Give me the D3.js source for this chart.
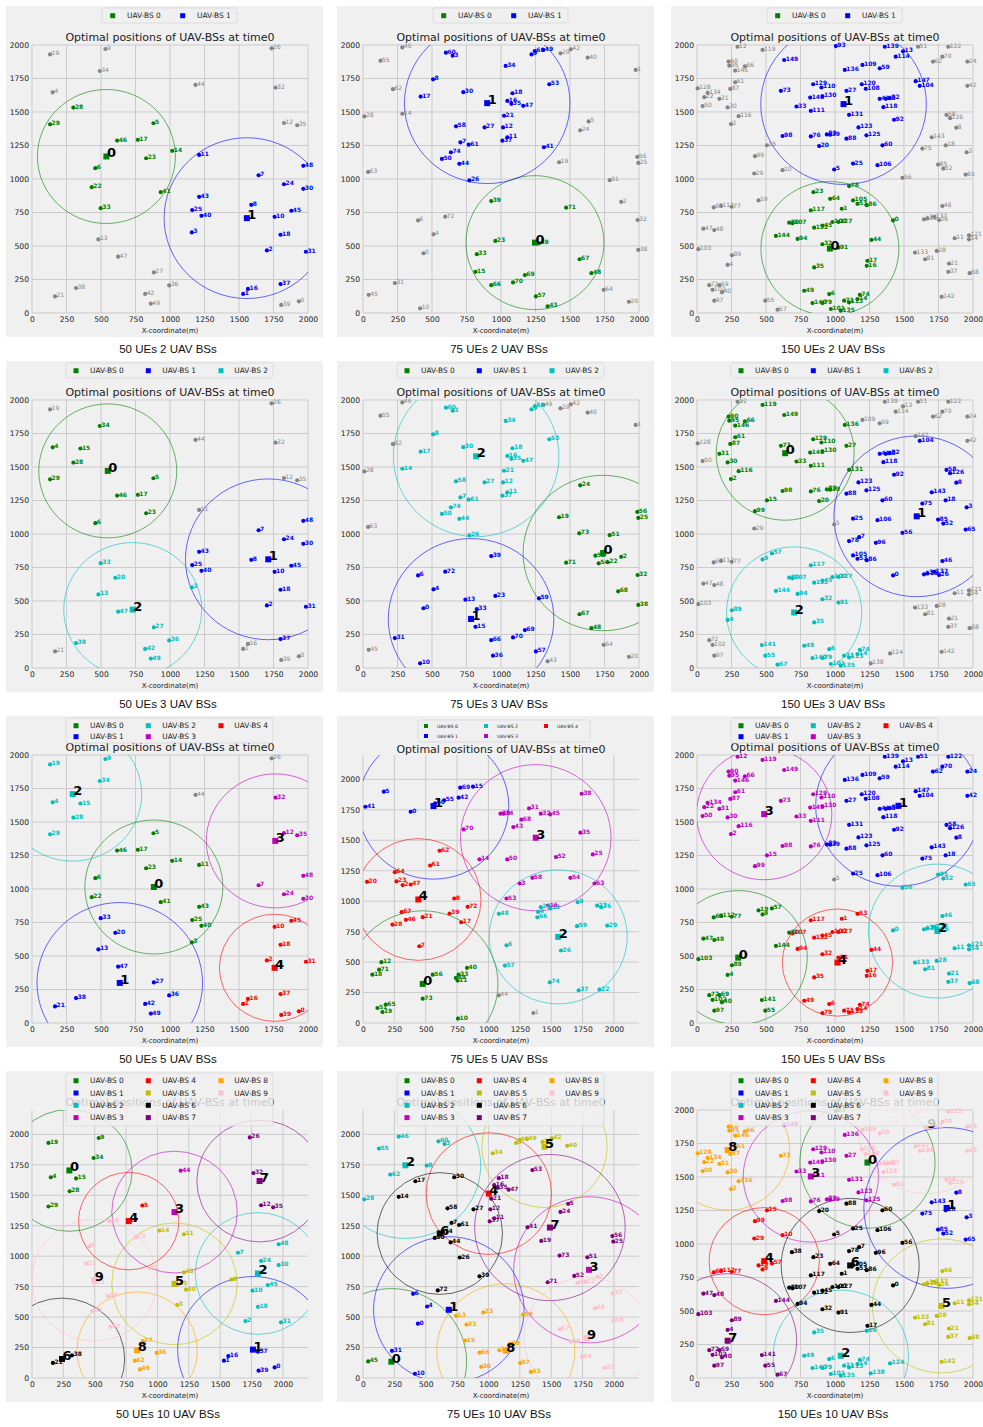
<!DOCTYPE html>
<html><head><meta charset="utf-8">
<script src="https://cdn.jsdelivr.net/npm/d3@7"></script>
<style>body{margin:0;background:#fff}svg{display:block}</style>
</head><body>
<svg id="c" width="983" height="1427"></svg>
<script>
// ---------- UE position sets (metres) ----------
const ue50X = [1934,1530,1702,1158,150,880,459,1642,1589,532,1758,1211,1826,481,1016,351,1565,767,1801,131,604,167,433,827,1826,1161,1736,883,300,131,1966,1985,1765,498,491,1922,994,1801,319,1806,1228,933,820,1211,1185,1879,617,624,1966,861];
const ue50Y = [87,142,467,601,1647,1416,1081,1028,807,1970,718,1180,1418,549,1210,1638,180,1292,584,1930,673,124,939,1155,961,768,1975,303,1533,1408,927,457,1682,782,1806,1401,206,216,186,60,725,902,142,867,1702,763,1287,420,1098,70];

const ue75X = [438,1976,1871,650,511,1635,399,706,508,1221,414,1046,1015,742,285,815,1046,418,1083,1421,1927,1022,1774,959,1574,1995,771,881,10,1431,727,231,1990,825,1034,1075,942,1010,1995,929,1628,1311,1506,1338,698,41,285,1161,1655,1306,572,1788,1684,1350,1708,127,1988,1253,674,1275,601,766,217,37,1744,1245,929,1569,1849,1173,1087,1472,596,1567,637];
const ue75Y = [446,1814,830,1920,587,1430,691,1274,1744,1930,35,1311,1385,510,1487,307,1583,1615,1640,1125,84,1472,789,538,1363,1120,989,1385,1467,1938,1648,223,694,439,1844,1561,92,1286,471,835,1906,1237,1968,50,1113,136,1982,1546,297,1963,1150,991,838,1707,781,1883,1165,124,1393,520,1943,1256,1670,1053,173,1955,208,401,572,283,228,786,719,1005,1199];

const ue75bX = [380,1358,316,1249,1396,166,1144,449,727,1711,757,754,147,1492,928,877,1476,783,75,155,32,476,1885,267,1417,1832,1578,1866,235,1947,1096,1324,1417,762,1120,1733,1899,1719,1743,690,829,19,762,1198,1083,1492,342,380,1083,740,1150,115,1538,1144,1653,647,556,1131,1350,1706,575,535,610,1845,254,182,1390,308,1262,775,802,128,834,476,1489];
const ue75bY = [1734,82,1132,1145,912,1899,638,630,1022,992,36,348,499,940,1343,1940,964,827,397,90,1159,869,274,1162,951,1384,595,964,808,800,1718,1762,1718,397,1718,1562,951,269,1882,899,452,1775,1850,1608,227,1712,847,1137,896,370,1343,123,1362,1022,1192,1828,397,471,1192,795,1803,1293,1414,1145,1238,151,868,910,1669,1932,1589,438,954,200,334];

const ue150X = [1421,1049,246,1954,222,994,958,1175,1879,475,620,1867,294,1493,1163,507,1230,1235,1802,446,885,1826,53,844,1959,1131,1754,1083,1737,415,222,162,909,721,null,849,1670,1821,688,965,181,1324,1959,1368,1264,909,1778,46,125,777,41,1602,1785,1163,1971,495,1489,543,1808,1324,1344,277,1710,121,965,1947,347,584,1976,162,1778,1066,89,608,1180,1633,825,251,1102,909,668,1653,1397,941,null,1747,1230,241,1083,253,229,1025,1428,1006,729,234,1296,125,620,420,982,970,113,10,1614,1131,1308,692,1223,1199,902,825,174,1102,1440,1645,302,825,1351,475,1194,1971,1821,1170,1399,1228,1834,1025,5,842,909,1102,849,1580,77,1042,1071,1718,1259,1361,837,470,1773,1701,572,820,277,1585,null,632];
const ue150Y = [691,778,1410,1199,359,1071,141,976,1383,810,1066,558,1987,1953,104,1251,352,389,1251,840,1246,369,1611,902,1876,1115,694,1658,463,1041,1534,1598,513,1541,null,340,706,307,939,1331,154,1598,1695,1598,545,652,798,629,619,166,1544,1987,1078,815,550,92,1009,855,1478,1826,1251,1722,1876,788,852,1033,1841,25,297,208,1913,92,208,1658,136,1227,1318,793,947,74,674,401,1603,1333,null,1108,805,1672,1301,431,1876,488,1442,1992,553,1846,934,92,1321,1170,679,30,173,476,1695,840,1103,669,1673,1851,1683,1509,800,79,1913,699,1469,766,1536,1963,1707,580,1987,1385,109,1326,1454,679,1677,1707,1616,1479,637,451,1643,17,1814,718,35,1987,74,171,121,1311,575,1608,1809,1730,null,1888];

// ---------- per-panel UAV positions, radii, UE groups ----------
const uav50_2X=[539,1557], uav50_2Y=[1168,708], rad50_2=[500,600];
const grp50_2=[[28,29,5,46,17,14,23,6,22,41,33],[11,7,48,24,30,43,8,25,40,10,45,3,18,2,31,37,16,1]];
const gray50_2=[19,9,34,26,4,44,32,12,35,13,47,27,36,38,21,42,49,39,0];

const uav75_2X=[1246,900], uav75_2Y=[525,1566], rad75_2=[500,600];
const grp75_2=[[39,71,23,59,33,67,15,48,69,70,66,57,43],[60,3,8,17,30,34,18,16,35,47,53,21,58,27,12,7,61,11,37,74,50,44,41,26,49,65,9]];
const gray75_2=[46,55,62,28,14,29,42,40,1,5,24,19,56,25,63,51,2,6,72,32,4,0,38,31,64,45,20,10];

const uav150_2X=[963,1062], uav150_2Y=[481,1559], rad150_2=[500,600];
const grp150_2=[[78,23,64,105,53,86,1,117,0,80,107,144,94,132,45,100,127,91,32,44,35,17,16,49,6,74,14,140,79,71,113,101,135],
 [93,139,13,114,149,136,109,59,147,104,73,129,110,27,120,108,145,130,33,111,41,43,82,118,131,92,98,83,39,88,76,123,125,20,60,25,106,5]];
const gray150_2=[12,51,122,70,62,24,90,95,146,66,61,87,128,134,22,31,50,30,116,2,119,42,58,126,8,143,75,18,3,15,99,29,10,85,52,65,56,46,63,112,77,19,47,48,103,89,4,72,102,69,40,97,55,67,133,81,28,21,37,68,11,121,54,115,36,26,137,142];

const uav50_3X=[549,1712,730], uav50_3Y=[1471,811,436], rad50_3=[500,600,500];
const grp50_3=[[34,4,15,28,29,5,46,17,23,6],[7,48,24,30,43,25,40,8,10,45,18,2,31,37],[33,20,13,47,3,27,36,38,42,49]];
const gray50_3=[19,26,44,32,12,35,11,21,16,1,39,0];

const uav75_3X=[1740,783,820], uav75_3Y=[858,366,1580], rad75_3=[580,600,600];
const grp75_3=[[24,19,56,25,73,51,52,54,22,2,71,32,68,38,67,48],[39,6,72,4,13,23,59,0,33,15,31,66,70,69,57,10,36],
 [60,3,8,17,14,30,34,18,16,35,47,53,21,58,27,12,7,61,11,37,74,50,44,26,9,65]];
const gray75_3=[46,55,62,28,63,45,49,29,42,40,1,64,20,43];

const uav150_3X=[639,1592,704], uav150_3Y=[1603,1132,414], rad150_3=[500,600,490];
const grp150_3=[[119,149,90,95,146,66,61,87,31,30,116,2,73,129,110,145,130,27,33,111,131,98,76,83,39,20,15,99,136],
 [104,41,43,82,118,92,58,126,8,123,125,88,60,143,75,18,3,25,106,85,52,65,56,78,7,96,105,53,86,0,115,36,26,137,46],
 [9,57,117,80,107,132,45,100,127,144,94,32,91,89,4,35,141,55,67,49,6,140,79,74,14,101,71,113,135]];
const gray150_3=[12,139,13,114,51,122,70,62,24,109,59,147,42,128,50,5,29,63,112,77,47,48,103,72,102,97,133,81,28,21,37,68,11,121,54,142,138,124];

const uav50_5X=[883,636,295,1763,1758], uav50_5Y=[1015,299,1708,1359,412], rad50_5=[500,600,500,500,400];
const grp50_5=[[5,46,17,14,23,11,6,22,41,43,25,40,3],[33,20,13,47,27,21,38,36,42,49],[19,9,34,4,15,28,29],[32,12,35,7,48,24,30],[10,45,18,2,31,37,16,1,39,0]];
const gray50_5=[26,44];

const uav75_5X=[476,562,1556,1377,441], uav75_5Y=[321,1781,707,1521,1014], rad75_5=[600,600,550,600,500];
const grp75_5=[[10,11,12,18,19,33,40,49,51,56,65,71,73],[0,5,15,41,42,55,60,69],[4,6,9,13,22,24,26,27,29,36,37,48,57,59,66,74],
 [3,14,16,25,30,31,32,34,35,38,43,45,50,52,53,54,58,63,68,70],[2,7,8,17,20,21,23,28,39,46,47,61,62,64,67,72]];
const gray75_5=[1,44];

const uav150_5X=[299,1460,1742,487,1018], uav150_5Y=[488,1621,686,1559,451], rad150_5=[500,600,500,490,400];
const grp150_5=[[63,112,77,19,9,57,47,48,103,89,4,72,102,69,40,97,144,141,55,80],
 [139,13,51,122,114,70,62,24,136,109,59,147,104,42,120,108,27,41,43,82,118,131,92,58,126,8,83,39,88,123,125,60,143,75,18,25,106],
 [85,52,65,56,46,0,115,36,26,137,11,121,54,133,28,81,21,37,68],
 [12,119,149,90,95,146,66,61,87,134,22,31,50,30,116,2,73,129,110,145,130,33,111,98,76,15,99],
 [117,107,94,132,45,100,127,1,53,44,32,91,35,17,16,49,6,74,14,79,71,113]];
const gray150_5=[5];

const uav50_10X=[298,1761,1801,1136,771,1136,239,1814,838,497], uav50_10Y=[1704,233,858,1362,1288,773,156,1617,227,803];
const rad50_10=[500,600,500,500,400,500,500,500,480,500];
const grp50_10=[[19,9,34,4,15,28,29],[37,16,1,39,0],[7,48,24,30,10,45,18,2,31],[44],[5,17],[14,11,43,25,40,3,8],[21,38],[26,32,12,35],[27,36,42,49],[46,23,6,22,41,33,20,13,47]];
const gray50_10=[];

const uav75_10X=[226,684,338,1801,1003,1447,612,1490,1138,1782], uav75_10Y=[134,560,1746,888,1514,1899,1186,1235,224,328];
const rad75_10=[600,600,600,600,500,500,500,600,550,500];
const grp75_10=[[45],[6,4,0,31,10],[46,55,60,3,8,62,28],[],[],[34,9,65,49,29,42,40],[17,14,30,58,27,7,61,44,26,39,72,74,50],
 [18,16,35,47,21,12,11,37,53,24,5,41,19,56,25,73,51,52,71],[13,23,59,33,15,66,70,69,57,43,36],[54,22,2,32,68,38,67,48,64,20]];
const gray75_10=[];

const uav150_10X=[1235,1809,1042,825,487,1771,1110,222,222,1665], uav150_10Y=[1608,1269,166,1504,872,538,840,278,1702,1876];
const rad150_10=[490,600,490,490,400,500,500,500,450,500];
const grp150_10=[[93],[8,143,75,18,3,85,52,65],[35,16,49,6,140,79,74,14,71,113,101,135,138,124],
 [149,129,110,145,130,33,111,98,76,136,27,131,123,125,83,39],[15,99,29,10,63,112,77,19,9,57],
 [46,115,36,26,137,11,121,54,133,81,28,21,37,68,142],
 [88,20,60,25,106,5,56,38,23,78,7,96,64,105,53,86,117,1,0,80,107,132,45,100,127,94,32,91,44,17],
 [47,48,103,144,89,4,72,102,69,40,97,141,55,67],[90,95,146,66,61,87,128,134,22,31,50,30,116,2,73],
 [109,59,120,108,41,43,82,118,92,147,104,42,122,70,24,62,58,126,114,13,139,51]];
const gray150_10=[];

const captions = ["50 UEs 2 UAV BSs","75 UEs 2 UAV BSs","150 UEs 2 UAV BSs","50 UEs 3 UAV BSs","75 UEs 3 UAV BSs","150 UEs 3 UAV BSs",
 "50 UEs 5 UAV BSs","75 UEs 5 UAV BSs","150 UEs 5 UAV BSs","50 UEs 10 UAV BSs","75 UEs 10 UAV BSs","150 UEs 10 UAV BSs"];
const axisMax = [2000,2000,2000,2000,2000,2000,2000,2200,2000,2200,2200,2000];
const tickVals = [0,250,500,750,1000,1250,1500,1750,2000];
const titleText = "Optimal positions of UAV-BSs at time0";
const xLabel = "X-coordinate(m)";
const uavColors = ['#008000','#0000ff','#00bfbf','#bf00bf','#ff0000','#bfbf00','#000000','#800080','#ffa500','#ffc0cb'];
const grayColor = '#858585';

// ---------- assemble ----------
const sets = {s50:[ue50X,ue50Y], s75:[ue75X,ue75Y], s75b:[ue75bX,ue75bY], s150:[ue150X,ue150Y]};
const panels = [
 {s:'s50', ux:uav50_2X, uy:uav50_2Y, r:rad50_2, g:grp50_2, gr:gray50_2},
 {s:'s75', ux:uav75_2X, uy:uav75_2Y, r:rad75_2, g:grp75_2, gr:gray75_2},
 {s:'s150', ux:uav150_2X, uy:uav150_2Y, r:rad150_2, g:grp150_2, gr:gray150_2},
 {s:'s50', ux:uav50_3X, uy:uav50_3Y, r:rad50_3, g:grp50_3, gr:gray50_3},
 {s:'s75', ux:uav75_3X, uy:uav75_3Y, r:rad75_3, g:grp75_3, gr:gray75_3},
 {s:'s150', ux:uav150_3X, uy:uav150_3Y, r:rad150_3, g:grp150_3, gr:gray150_3},
 {s:'s50', ux:uav50_5X, uy:uav50_5Y, r:rad50_5, g:grp50_5, gr:gray50_5},
 {s:'s75b', ux:uav75_5X, uy:uav75_5Y, r:rad75_5, g:grp75_5, gr:gray75_5, small:true},
 {s:'s150', ux:uav150_5X, uy:uav150_5Y, r:rad150_5, g:grp150_5, gr:gray150_5},
 {s:'s50', ux:uav50_10X, uy:uav50_10Y, r:rad50_10, g:grp50_10, gr:gray50_10},
 {s:'s75', ux:uav75_10X, uy:uav75_10Y, r:rad75_10, g:grp75_10, gr:gray75_10},
 {s:'s150', ux:uav150_10X, uy:uav150_10Y, r:rad150_10, g:grp150_10, gr:gray150_10}
];

const colX=[6,337,671], rowY=[6,361,716,1071];
const PW=317, PH=331;
const AX={l:26,r:302,t:39,b:307};
const FONT='"DejaVu Sans", sans-serif';
const svg=d3.select('#c');

panels.forEach((p,i)=>{
  const col=i%3,row=Math.floor(i/3);
  const g=svg.append('g').attr('transform',`translate(${colX[col]},${rowY[row]})`);
  g.append('rect').attr('width',PW).attr('height',PH).attr('fill','#f0f0f0');
  const mx=axisMax[i];
  const x=d3.scaleLinear().domain([0,mx]).range([AX.l,AX.r]);
  const y=d3.scaleLinear().domain([0,mx]).range([AX.b,AX.t]);
  // grid
  const grid=g.append('g').attr('stroke','#cbcbcb').attr('stroke-width',1);
  grid.selectAll('.v').data(tickVals).join('line').attr('x1',d=>x(d)).attr('x2',d=>x(d)).attr('y1',AX.t).attr('y2',AX.b);
  grid.selectAll('.h').data(tickVals).join('line').attr('y1',d=>y(d)).attr('y2',d=>y(d)).attr('x1',AX.l).attr('x2',AX.r);
  // axes
  const fmt=d3.format('d');
  const xa=g.append('g').attr('transform',`translate(0,${AX.b})`).call(d3.axisBottom(x).tickValues(tickVals).tickFormat(fmt).tickSize(0).tickPadding(3.5));
  const ya=g.append('g').attr('transform',`translate(${AX.l},0)`).call(d3.axisLeft(y).tickValues(tickVals).tickFormat(fmt).tickSize(0).tickPadding(3));
  [xa,ya].forEach(a=>{a.select('.domain').remove();a.selectAll('text').attr('font-family',FONT).attr('font-size',7.6).attr('fill','#222');});
  g.append('text').attr('x',(AX.l+AX.r)/2).attr('y',327).attr('text-anchor','middle').attr('font-family',FONT).attr('font-size',7).attr('fill','#222').text(xLabel);
  // title
  g.append('text').attr('x',(AX.l+AX.r)/2).attr('y',p.small?37:34.5).attr('text-anchor','middle').attr('font-family',FONT).attr('font-size',11).attr('fill','#222').text(titleText);
  // coverage circles
  const cid='clip'+i;
  g.append('clipPath').attr('id',cid).append('rect').attr('x',AX.l).attr('y',AX.t).attr('width',AX.r-AX.l).attr('height',AX.b-AX.t);
  const cg=g.append('g').attr('clip-path',`url(#${cid})`);
  cg.selectAll('ellipse').data(p.ux.map((v,k)=>k)).join('ellipse')
    .attr('cx',k=>x(p.ux[k])).attr('cy',k=>y(p.uy[k]))
    .attr('rx',k=>x(p.r[k])-x(0)).attr('ry',k=>y(0)-y(p.r[k]))
    .attr('fill','none').attr('stroke',k=>uavColors[k]).attr('stroke-width',0.9).attr('stroke-opacity',0.65);
  // UEs
  const [SX,SY]=sets[p.s];
  const pts=[];
  p.gr.forEach(id=>{ if(SX[id]!=null) pts.push({id,c:grayColor,bold:false}); });
  p.g.forEach((lst,k)=>lst.forEach(id=>{ if(SX[id]!=null) pts.push({id,c:uavColors[k],bold:true}); }));
  const ug=g.append('g');
  ug.selectAll('circle').data(pts).join('circle').attr('cx',d=>x(SX[d.id])).attr('cy',d=>y(SY[d.id])).attr('r',2.1).attr('fill',d=>d.c);
  ug.selectAll('text').data(pts).join('text').attr('x',d=>x(SX[d.id])+1.5).attr('y',d=>y(SY[d.id])+1)
    .attr('font-family',FONT).attr('font-size',6).attr('font-weight',d=>d.bold?'bold':'normal').attr('fill',d=>d.c).text(d=>d.id);
  // UAVs
  const ag=g.append('g');
  const ks=p.ux.map((v,k)=>k);
  ag.selectAll('rect').data(ks).join('rect').attr('x',k=>x(p.ux[k])-3).attr('y',k=>y(p.uy[k])-3).attr('width',6).attr('height',6).attr('fill',k=>uavColors[k]);
  ag.selectAll('text').data(ks).join('text').attr('x',k=>x(p.ux[k])+0.5).attr('y',k=>y(p.uy[k])+1)
    .attr('font-family',FONT).attr('font-size',13).attr('font-weight','bold').attr('fill','#000').text(k=>k);
  // legend
  const n=p.ux.length;
  const lg=g.append('g');
  let box, mk, tx, rows, rowY0, rowStep, fs, ms;
  if(p.small){ box=[81,4,253,26]; mk=[89,149,209]; tx=[100,160,220]; rows=2; rowY0=10; rowStep=10; fs=4.6; ms=4; }
  else if(n===2){ box=[96,2,231,17]; mk=[106.7,176.7]; tx=[121,191]; rows=1; rowY0=9.7; rowStep=0; fs=7.4; ms=5; }
  else { rows=n===3?1:(n===5?2:4); box=[60,2,267,rows===1?17:(rows===2?27:55)]; mk=[70,142.3,215]; tx=[84,156.3,228.3]; rowY0=9.7; rowStep=rows===2?11:12.3; fs=7.4; ms=5; }
  lg.append('rect').attr('x',box[0]).attr('y',box[1]).attr('width',box[2]-box[0]).attr('height',box[3]-box[1]).attr('rx',2)
    .attr('fill','#f0f0f0').attr('fill-opacity',0.8).attr('stroke','#d4d4d4').attr('stroke-width',0.7);
  const ent=ks.map(k=>{ const c=Math.floor(k/rows), r=k%rows; return {k,c,r}; });
  lg.selectAll('rect.m').data(ent).join('rect').attr('class','m').attr('x',d=>mk[d.c]-ms/2).attr('y',d=>rowY0+d.r*rowStep-ms/2).attr('width',ms).attr('height',ms).attr('fill',d=>uavColors[d.k]);
  lg.selectAll('text').data(ent).join('text').attr('x',d=>tx[d.c]).attr('y',d=>rowY0+d.r*rowStep).attr('dy','0.35em')
    .attr('font-family',FONT).attr('font-size',fs).attr('fill','#222').text(d=>'UAV-BS '+d.k);
  // caption
  svg.append('text').attr('x',colX[col]+162).attr('y',rowY[row]+347).attr('text-anchor','middle')
    .attr('font-family','"Liberation Sans", Arial, sans-serif').attr('font-size',11.5).attr('fill','#111').text(captions[i]);
});
</script>
</body></html>
